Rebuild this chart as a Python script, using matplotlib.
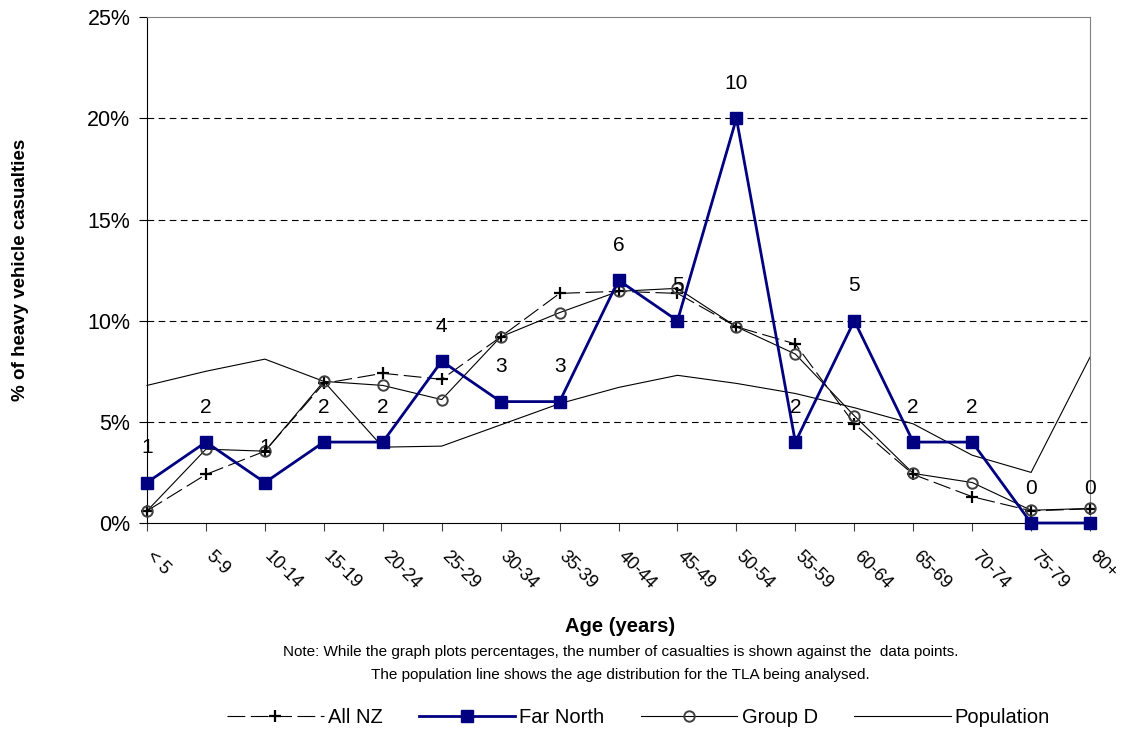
#!/usr/bin/env python3

# Heavy vehicle casualties by age group, Far North vs All NZ / Group D
# Usage:
#   $ python3 plot.py

import matplotlib.pyplot as plt
import matplotlib.transforms as mtransforms
from matplotlib.ticker import FuncFormatter

plt.rcParams['font.family'] = ['Liberation Sans', 'DejaVu Sans']

age_groups = ['< 5', '5-9', '10-14', '15-19', '20-24', '25-29', '30-34', '35-39',
              '40-44', '45-49', '50-54', '55-59', '60-64', '65-69', '70-74',
              '75-79', '80+']

# Percent of casualties in each age group
all_nz = [0.6, 2.4, 3.55, 6.9, 7.4, 7.1, 9.2, 11.35, 11.45, 11.35, 9.7, 8.85,
          4.9, 2.4, 1.3, 0.6, 0.7]
far_north = [2, 4, 2, 4, 4, 8, 6, 6, 12, 10, 20, 4, 10, 4, 4, 0, 0]
group_d = [0.6, 3.65, 3.55, 7.0, 6.8, 6.1, 9.2, 10.4, 11.45, 11.6, 9.7, 8.35,
           5.3, 2.45, 2.0, 0.63, 0.72]
population = [6.8, 7.5, 8.1, 7.0, 3.75, 3.8, 4.85, 5.9, 6.7, 7.3, 6.9, 6.4,
              5.7, 4.9, 3.35, 2.5, 8.2]

# Number of casualties shown against the Far North points
far_north_counts = [1, 2, 1, 2, 2, 4, 3, 3, 6, 5, 10, 2, 5, 2, 2, 0, 0]


def main():

  navy = '#000080'

  fig = plt.figure(figsize=(11.24, 7.33), dpi=100)
  ax = fig.add_axes([0.1308, 0.2865, 0.839, 0.690])

  x = list(range(len(age_groups)))

  ax.plot(x, all_nz, color='black', lw=0.8, ls=(0, (16, 5)), marker='+',
          ms=9, mew=1.6, label='All NZ', clip_on=False, zorder=3)
  ax.plot(x, far_north, color=navy, lw=2.0, marker='s', ms=9, mec=navy,
          mfc=navy, label='Far North', clip_on=False, zorder=4)
  ax.plot(x, group_d, color='black', lw=0.8, marker='o', ms=7.5, mfc='none',
          mec='#404040', mew=1.4, label='Group D', clip_on=False, zorder=3)
  ax.plot(x, population, color='black', lw=0.8, label='Population',
          clip_on=False, zorder=2)

  # Counts above each Far North point
  for xi, yi, n in zip(x, far_north, far_north_counts):
    ax.annotate(str(n), (xi, yi), xytext=(0, 25), textcoords='offset points',
                ha='center', va='center', fontsize=15, zorder=5)

  ax.set_xlim(0, len(age_groups) - 1)
  ax.set_ylim(0, 25)
  ax.set_yticks([0, 5, 10, 15, 20, 25])
  ax.yaxis.set_major_formatter(FuncFormatter(lambda v, p: '%d%%' % v))
  ax.set_xticks(x)
  ax.set_xticklabels(age_groups, rotation=-45, ha='left', va='top',
                     rotation_mode='anchor', fontsize=13)
  ax.tick_params(axis='x', length=6, pad=12, color='#404040')
  ax.tick_params(axis='y', direction='out', length=6, labelsize=15.5, pad=6)

  # Nudge the slanted labels a little right of their ticks
  shift = mtransforms.ScaledTranslation(6 / 72, 0, fig.dpi_scale_trans)
  for lbl in ax.get_xticklabels():
    lbl.set_transform(lbl.get_transform() + shift)

  for v in [5, 10, 15, 20]:
    ax.axhline(v, color='black', lw=0.8, ls=(0, (6, 4)), zorder=1)

  ax.spines['left'].set_color('black')
  ax.spines['bottom'].set_color('black')
  ax.spines['top'].set_color('#808080')
  ax.spines['right'].set_color('#808080')

  ax.set_ylabel('% of heavy vehicle casualties', fontsize=13.5,
                fontweight='bold')
  ax.yaxis.set_label_coords(-0.125, 0.5)

  fig.text(0.552, 0.145, 'Age (years)', ha='center', va='center', fontsize=14.5,
           fontweight='bold')
  fig.text(0.552, 0.111, 'Note: While the graph plots percentages, the number '
           'of casualties is shown against the  data points.', ha='center',
           va='center', fontsize=11)
  fig.text(0.552, 0.079, 'The population line shows the age distribution for '
           'the TLA being analysed.', ha='center', va='center', fontsize=11)

  fig.legend(loc='center', bbox_to_anchor=(0.568, 0.021), ncol=4,
             frameon=False, fontsize=14.5, handlelength=4.8, columnspacing=1.8,
             handletextpad=0.2)

  fig.savefig('out.png', dpi=100)


if __name__ == '__main__':
  main()
